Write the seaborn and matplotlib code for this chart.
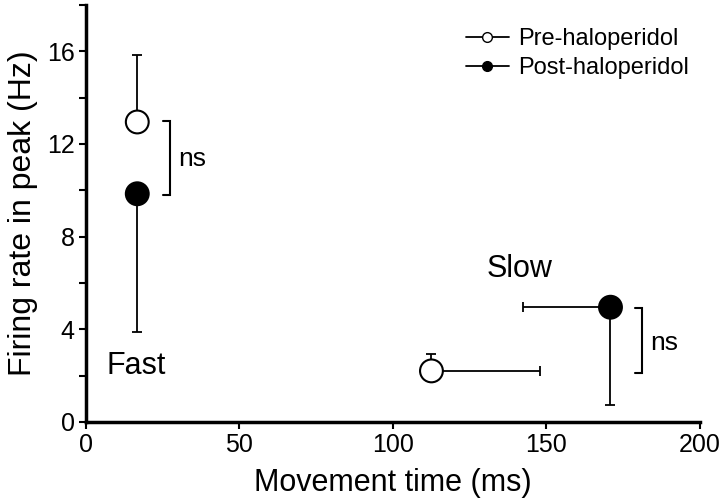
import numpy as np
import pandas as pd
import matplotlib
matplotlib.use("Agg")
import matplotlib.pyplot as plt
from matplotlib.lines import Line2D
from matplotlib.ticker import MultipleLocator
import seaborn as sns

# values
phase = ["Fast", "Fast", "Slow", "Slow"]
condition = ["Pre-haloperidol", "Post-haloperidol", "Pre-haloperidol", "Post-haloperidol"]
movement_time = [16.8, 16.8, 112.6, 170.9]
firing_rate = [12.95, 9.85, 2.2, 4.95]
rate_err_low = [0.0, 5.97, 0.0, 4.23]
rate_err_high = [2.9, 0.0, 0.74, 0.0]
time_err_low = [0.0, 0.0, 0.0, 28.5]
time_err_high = [0.0, 0.0, 35.5, 0.0]

# significance brackets (x left, x right, y top, y bottom) and labels
brackets = [(25.2, 27.6, 12.99, 9.78), (178.8, 181.2, 4.93, 2.13)]
ns_pos = [(30.2, 11.35), (183.8, 3.4)]
phase_labels = [("Fast", 6.8, 2.4), ("Slow", 130.6, 6.6)]

df = pd.DataFrame({"phase": phase, "condition": condition,
                   "time": movement_time, "rate": firing_rate})

sns.set_style("ticks", {"axes.edgecolor": "black", "text.color": "black",
                        "xtick.color": "black", "ytick.color": "black",
                        "axes.labelcolor": "black"})
plt.rcParams["font.family"] = ["Liberation Sans", "DejaVu Sans"]

fig = plt.figure(figsize=(7.2, 5.04), dpi=100)
ax = fig.add_axes([0.119, 0.163, 0.853, 0.827])

ax.errorbar(df["time"], df["rate"],
            yerr=[rate_err_low, rate_err_high],
            xerr=[time_err_low, time_err_high],
            fmt="none", ecolor="black", elinewidth=1.3, capsize=3.6,
            capthick=1.3, zorder=2)

sns.scatterplot(data=df, x="time", y="rate", hue="condition",
                palette={"Pre-haloperidol": "white", "Post-haloperidol": "black"},
                s=270, edgecolor="black", linewidth=1.5, legend=False,
                zorder=3, ax=ax)

for x0, x1, yt, yb in brackets:
    ax.plot([x0, x1, x1, x0], [yt, yt, yb, yb], color="black", lw=1.5,
            solid_joinstyle="miter")
for x, y in ns_pos:
    ax.text(x, y, "ns", fontsize=19, va="center", ha="left")
for lab, x, y in phase_labels:
    ax.text(x, y, lab, fontsize=22, va="center", ha="left")

ax.set_xlim(0, 200)
ax.set_ylim(0, 18)
ax.set_xticks([0, 50, 100, 150, 200])
ax.yaxis.set_major_locator(MultipleLocator(4))
ax.yaxis.set_minor_locator(MultipleLocator(2))
ax.set_yticks([0, 4, 8, 12, 16])
ax.tick_params(axis="both", which="both", direction="out", length=5,
               width=1.5, labelsize=18, pad=3)
ax.set_xlabel("Movement time (ms)", fontsize=22, labelpad=8)
ax.set_ylabel("Firing rate in peak (Hz)", fontsize=23, labelpad=6)
sns.despine(ax=ax)
for sp in ["left", "bottom"]:
    ax.spines[sp].set_linewidth(2.5)

handles = [
    Line2D([], [], color="black", lw=1.3, marker="o", ms=7,
           markerfacecolor="white", markeredgecolor="black"),
    Line2D([], [], color="black", lw=1.3, marker="o", ms=7,
           markerfacecolor="black", markeredgecolor="black"),
]
fig.legend(handles, ["Pre-haloperidol", "Post-haloperidol"],
           loc="upper left", bbox_to_anchor=(466 / 720, 1 - 28 / 504),
           frameon=False, fontsize=17, handlelength=1.8, handletextpad=0.4,
           labelspacing=0.3, borderpad=0, borderaxespad=0)

fig.savefig("out.png", dpi=100)
